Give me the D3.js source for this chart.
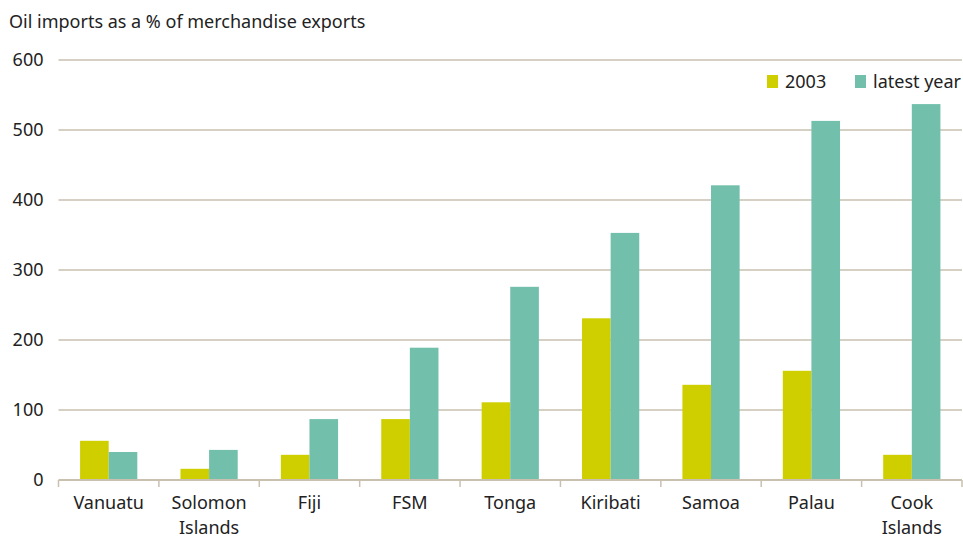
<!DOCTYPE html>
<html>
<head>
<meta charset="utf-8">
<script src="https://cdn.jsdelivr.net/npm/d3@7"></script>
<style>
  body { margin: 0; background: #fff; }
  text { font-family: "Noto Sans", "Open Sans", sans-serif; fill: #222; }
</style>
</head>
<body>
<div id="chart"></div>
<script>
const categories = ['Vanuatu', 'Solomon Islands', 'Fiji', 'FSM', 'Tonga', 'Kiribati', 'Samoa', 'Palau', 'Cook Islands'];
const values2003 = [56, 16, 36, 87, 111, 231, 136, 156, 36];
const valuesLatest = [40, 43, 87, 189, 276, 353, 421, 513, 537];
const seriesNames = ['2003', 'latest year'];
const yTicks = [0, 100, 200, 300, 400, 500, 600];
const colors = ['#cfcf00', '#72bfab'];

const width = 963, height = 538;
const margin = {top: 60, right: 1, bottom: 58, left: 58.5};
const innerW = width - margin.left - margin.right;
const innerH = height - margin.top - margin.bottom;

const svg = d3.select('#chart').append('svg')
    .attr('width', width)
    .attr('height', height);

svg.append('text')
    .attr('x', 9)
    .attr('y', 28)
    .style('font-size', '18px')
    .text('Oil imports as a % of merchandise exports');

const g = svg.append('g')
    .attr('transform', `translate(${margin.left},${margin.top})`);

const x = d3.scaleBand()
    .domain(categories)
    .range([0, innerW])
    .paddingInner(0.43)
    .paddingOuter(0.215);

const xSeries = d3.scaleBand()
    .domain(seriesNames)
    .range([0, x.bandwidth()]);

const y = d3.scaleLinear()
    .domain([0, 600])
    .range([innerH, 0]);

// gridlines
g.append('g')
    .selectAll('line')
    .data(yTicks.filter(d => d > 0))
    .enter().append('line')
    .attr('x1', 0)
    .attr('x2', innerW)
    .attr('y1', d => y(d))
    .attr('y2', d => y(d))
    .style('stroke', '#c9c0b0')
    .style('stroke-width', 1.5);

// y labels
g.append('g')
    .selectAll('text')
    .data(yTicks)
    .enter().append('text')
    .attr('x', -15)
    .attr('y', d => y(d))
    .attr('dy', '0.35em')
    .style('text-anchor', 'end')
    .style('font-size', '18px')
    .text(d => d);

// bars
const data = categories.map((c, i) => ({cat: c, vals: [values2003[i], valuesLatest[i]]}));

const groups = g.selectAll('.grp')
    .data(data)
    .enter().append('g')
    .attr('class', 'grp')
    .attr('transform', d => `translate(${x(d.cat)},0)`);

groups.selectAll('rect')
    .data(d => d.vals.map((v, j) => ({series: seriesNames[j], value: v, j})))
    .enter().append('rect')
    .attr('x', d => xSeries(d.series))
    .attr('y', d => y(d.value))
    .attr('width', xSeries.bandwidth())
    .attr('height', d => innerH - y(d.value))
    .attr('fill', d => colors[d.j]);

// x axis line and ticks
g.append('line')
    .attr('x1', 0).attr('x2', innerW)
    .attr('y1', innerH).attr('y2', innerH)
    .style('stroke', '#c9c0b0')
    .style('stroke-width', 2);

g.append('g')
    .selectAll('line')
    .data(d3.range(categories.length + 1))
    .enter().append('line')
    .attr('x1', i => i * innerW / categories.length)
    .attr('x2', i => i * innerW / categories.length)
    .attr('y1', innerH)
    .attr('y2', innerH + 7)
    .style('stroke', '#c9c0b0')
    .style('stroke-width', 1.5);

// category labels
const catLabels = g.append('g')
    .selectAll('text')
    .data(categories)
    .enter().append('text')
    .attr('x', d => x(d) + x.bandwidth() / 2)
    .attr('y', innerH + 29)
    .style('text-anchor', 'middle')
    .style('font-size', '18px');

catLabels.each(function(d) {
    const words = d.split(' ');
    const t = d3.select(this);
    words.forEach((w, k) => {
        t.append('tspan')
            .attr('x', x(d) + x.bandwidth() / 2)
            .attr('dy', k === 0 ? 0 : 25)
            .text(w);
    });
});

// legend
const legendX = [767, 855];
const legend = svg.append('g');
seriesNames.forEach((s, i) => {
    legend.append('rect')
        .attr('x', legendX[i])
        .attr('y', 75)
        .attr('width', 11)
        .attr('height', 13)
        .attr('fill', colors[i]);
    legend.append('text')
        .attr('x', legendX[i] + 18)
        .attr('y', 88)
        .style('font-size', '18px')
        .text(s);
});
</script>
</body>
</html>
